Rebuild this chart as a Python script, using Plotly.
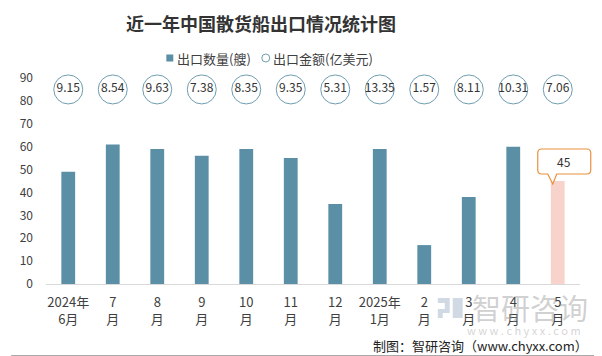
import plotly.graph_objects as go

categories = ["2024年<br>6月", "7<br>月", "8<br>月", "9<br>月", "10<br>月", "11<br>月",
              "12<br>月", "2025年<br>1月", "2<br>月", "3<br>月", "4<br>月", "5<br>月"]
export_count = [49, 61, 59, 56, 59, 55, 35, 59, 17, 38, 60, 45]
export_value = [9.15, 8.54, 9.63, 7.38, 8.35, 9.35, 5.31, 13.35, 1.57, 8.11, 10.31, 7.06]
y_ticks = [0, 10, 20, 30, 40, 50, 60, 70, 80, 90]

# page has an 8px body margin; lay out in page coordinates and shift
OFF = 8
W, H = 602 - OFF, 356 - OFF
ML, MR, MT, MB = 43 - OFF, 22, 78 - OFF, 72
PW, PH = W - ML - MR, H - MT - MB

def px(x):  # page x -> paper
    return (x - OFF - ML) / PW

def py(y):  # page y -> paper
    return (H - MB - (y - OFF)) / PH

label_row = 85
BAR = "#5B8FA5"
ORANGE = "#E8913F"
bar_colors = [BAR] * (len(categories) - 1) + ["#F8D3CB"]

fig = go.Figure()
fig.add_trace(go.Bar(
    x=categories, y=export_count, name="出口数量(艘)",
    marker=dict(color=bar_colors, line=dict(width=0)),
))
fig.add_trace(go.Scatter(
    x=categories, y=[label_row] * len(categories), name="出口金额(亿美元)",
    mode="markers+text", text=[f"{v:.2f}" for v in export_value],
    textposition="middle center",
    textfont=dict(size=12, color="#333333"),
    marker=dict(symbol="circle", size=29, color="white",
                line=dict(color="#6E9DB1", width=1)),
    cliponaxis=False,
))

# callout for the last bar (rounded box with pointer), anchored at the bar top
last = len(categories) - 1
cx = (last + 0.5) / len(categories)
callout_path = ("M -10,7 L -5,-3 L -1,7 L 29,7 Q 33,7 33,11 L 33,28 Q 33,32 29,32 "
                "L -16,32 Q -20,32 -20,28 L -20,11 Q -20,7 -16,7 Z")
fig.add_shape(type="path", xref="paper", yref="y",
              xsizemode="pixel", ysizemode="pixel",
              xanchor=cx, yanchor=export_count[last], path=callout_path,
              fillcolor="white", line=dict(color=ORANGE, width=1.2))
fig.add_annotation(xref="paper", yref="y", x=cx, y=export_count[last],
                   xshift=6.5, yshift=19.5, showarrow=False,
                   text=str(export_count[last]), xanchor="center", yanchor="middle",
                   font=dict(size=12, color="#333333"))

# manual legend
fig.add_shape(type="rect", xref="paper", yref="paper",
              x0=px(164), x1=px(171), y0=py(61.5), y1=py(54.5),
              fillcolor=BAR, line=dict(width=0))
fig.add_annotation(xref="paper", yref="paper", x=px(173), y=py(58),
                   xanchor="left", yanchor="middle", text="出口数量(艘)", showarrow=False,
                   font=dict(size=13, color="#404040"))
fig.add_shape(type="circle", xref="paper", yref="paper",
              x0=px(260), x1=px(268), y0=py(62), y1=py(54),
              fillcolor="white", line=dict(color="#6E9DB1", width=1))
fig.add_annotation(xref="paper", yref="paper", x=px(269), y=py(58),
                   xanchor="left", yanchor="middle", text="出口金额(亿美元)", showarrow=False,
                   font=dict(size=13, color="#404040"))

# watermark logo + text
LOGO = "rgba(150,170,195,0.45)"
for (x0, x1, y0, y1) in [(437, 449, 298, 303), (444, 449, 303, 309), (437, 449, 309, 313),
                         (437, 442, 313, 318), (452, 462, 298, 318)]:
    fig.add_shape(type="rect", xref="paper", yref="paper",
                  x0=px(x0), x1=px(x1), y0=py(y1), y1=py(y0),
                  fillcolor=LOGO, line=dict(width=0))
fig.add_annotation(xref="paper", yref="paper", x=px(530), y=py(307),
                   xanchor="center", yanchor="middle",
                   text="智研咨询", showarrow=False,
                   font=dict(size=29, color="rgba(150,150,150,0.45)"))
fig.add_annotation(xref="paper", yref="paper", x=px(524), y=py(330),
                   xanchor="center", yanchor="middle",
                   text="w w w . c h y x x . c o m", showarrow=False,
                   font=dict(size=11, color="rgba(170,170,170,0.5)"))
fig.add_annotation(xref="paper", yref="paper", x=px(590), y=py(345),
                   xanchor="right", yanchor="middle",
                   text="制图：智研咨询（www.chyxx.com）", showarrow=False,
                   font=dict(size=13, color="#222222"))

# right and bottom frame lines
fig.add_shape(type="line", xref="paper", yref="paper",
              x0=px(601.5), x1=px(601.5), y0=py(355.5), y1=py(8),
              line=dict(color="#AAAAAA", width=1))
fig.add_shape(type="line", xref="paper", yref="paper",
              x0=px(8), x1=px(601.5), y0=py(355.5), y1=py(355.5),
              line=dict(color="#AAAAAA", width=1))

fig.update_layout(
    width=W, height=H,
    margin=dict(l=ML, r=MR, t=MT, b=MB),
    paper_bgcolor="white", plot_bgcolor="white",
    font=dict(family="Noto Sans CJK SC, sans-serif", color="#404040", size=12),
    title=dict(text="<b>近一年中国散货船出口情况统计图</b>",
               x=(261 - OFF) / W, xanchor="center", y=1 - (25 - OFF) / H, yanchor="middle",
               font=dict(size=18, color="#333333")),
    bargap=0.69,
    showlegend=False,
    xaxis=dict(type="category", range=[-0.5, len(categories) - 0.5], autorange=False,
               showline=True, linecolor="#D9D9D9", linewidth=1,
               showgrid=False, ticks="", tickfont=dict(size=13, color="#404040"),
               ticklabelstandoff=6),
    yaxis=dict(range=[0, 90], tickvals=y_ticks, showgrid=False, showline=False,
               zeroline=False, ticks="", tickfont=dict(size=12, color="#404040"),
               ticklabelstandoff=12),
)

fig.write_html("out.html")
